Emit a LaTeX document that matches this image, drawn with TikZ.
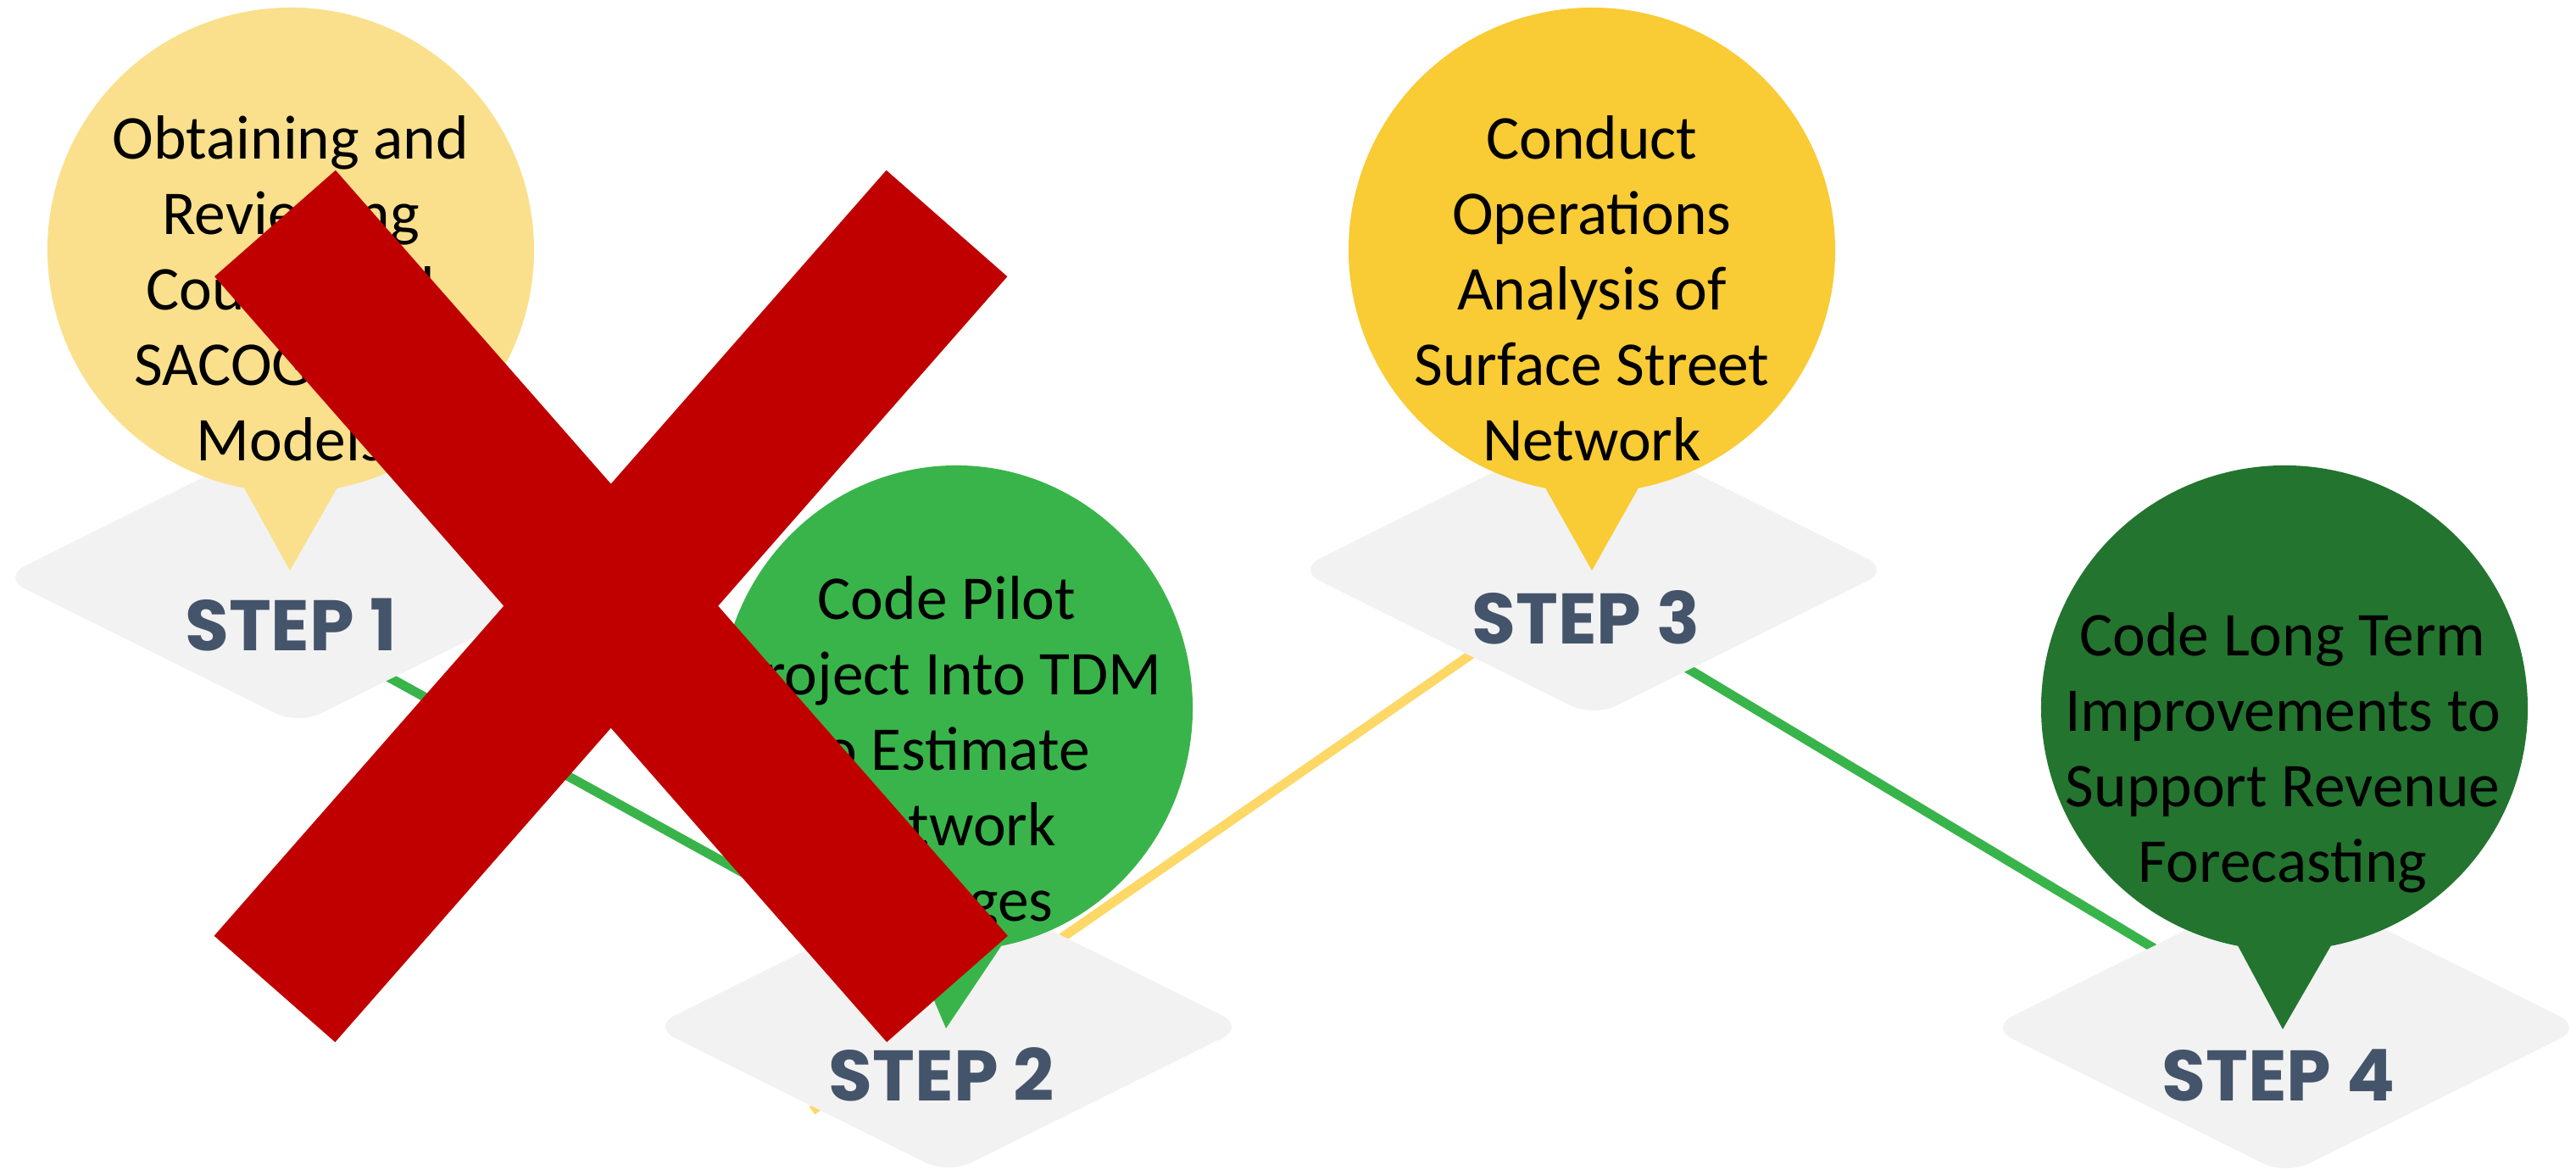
\documentclass[tikz,border=0pt]{standalone}
\usepackage{fontspec}
\setmainfont{Carlito}
\newfontfamily\stepfont{Poppins}
\usetikzlibrary{shapes.geometric,calc}
\definecolor{stepgrey}{HTML}{F2F2F2}
\definecolor{stepslate}{HTML}{44546A}
\definecolor{palegold}{HTML}{FAE08C}
\definecolor{bubblegold}{HTML}{F9CB34}
\definecolor{leafgreen}{HTML}{39B44A}
\definecolor{darkleaf}{HTML}{23742F}
\definecolor{linegold}{HTML}{FDD867}
\definecolor{crossred}{HTML}{C00000}
% callout: centre, x radius, y radius, tip, colour
\newcommand\callout[5]{%
  \fill[#5] (#1) ++(-79:#2 and #3)
    arc[start angle=-79,end angle=259,x radius=#2,y radius=#3] -- (#4) -- cycle;}

\begin{document}
\begin{tikzpicture}[
    stepbox/.style={diamond,fill=stepgrey,minimum width=7cm,minimum height=3.48cm,
      inner sep=0pt,rounded corners=0.3cm},
    steplabel/.style={font=\stepfont\bfseries\fontsize{24}{24}\selectfont,
      text=stepslate,inner sep=0pt},
    bubbletext/.style={align=center,inner sep=0pt,
      font=\fontsize{20.9}{25.3}\selectfont},
    link/.style={line width=0.11cm},
    cross/.style={line width=1.9cm,crossred}]
  \useasboundingbox (0,0) rectangle (30.39,13.80);

  % path between the steps
  \coordinate (g1a) at (3.52,6.40);
  \coordinate (g1b) at (11.19,2.17);
  \coordinate (y2a) at (9.58,0.70);
  \coordinate (y2b) at (18.80,7.08);
  \coordinate (g3a) at (18.80,6.58);
  \coordinate (g3b) at (26.97,1.68);
  \draw[link,leafgreen] (g1a) -- (g1b);
  \draw[link,linegold] (y2a) -- (y2b);
  \draw[link,leafgreen] (g3a) -- (g3b);

  % steps
  \draw
    (3.52,6.99) node[stepbox](D1) {}
    (11.19,1.69) node[stepbox](D2) {}
    (18.80,7.08) node[stepbox](D3) {}
    (26.97,1.68) node[stepbox](D4) {};
  \node[steplabel] (S1) at ($(D1)+(-0.09,-0.56)$) {STEP 1};
  \node[steplabel] (S2) at ($(D2)+(-0.08,-0.56)$) {STEP 2};
  \node[steplabel] (S3) at ($(D3)+(-0.09,-0.56)$) {STEP 3};
  \node[steplabel] (S4) at ($(D4)+(-0.09,-0.56)$) {STEP 4};

  % callouts
  \coordinate (B1) at (3.43,10.85);
  \coordinate (B2) at (11.28,5.45);
  \coordinate (B3) at (18.78,10.85);
  \coordinate (B4) at (26.95,5.45);
  \coordinate (P1) at (3.42,7.07);
  \coordinate (P2) at (11.16,1.67);
  \coordinate (P3) at (18.78,7.07);
  \coordinate (P4) at (26.93,1.66);
  \callout{B1}{2.87}{2.86}{P1}{palegold}
  \callout{B2}{2.79}{2.86}{P2}{leafgreen}
  \callout{B3}{2.87}{2.86}{P3}{bubblegold}
  \callout{B4}{2.87}{2.86}{P4}{darkleaf}
  \node[bubbletext] (T1) at (3.43,10.40)
    {Obtaining and\\Reviewing\\County and\\SACOG TDM\\Models};
  \node[bubbletext] (T2) at (11.17,4.91)
    {Code Pilot\\Project Into TDM\\to Estimate\\Network\\Changes};
  \node[bubbletext] (T3) at (18.78,10.40)
    {Conduct\\Operations\\Analysis of\\Surface Street\\Network};
  \node[bubbletext] (T4) at (26.93,4.92)
    {Code Long Term\\Improvements to\\Support Revenue\\Forecasting};

  % step 1 struck out
  \coordinate (X1a) at (3.245,11.165);
  \coordinate (X1b) at (11.175,2.135);
  \coordinate (X2a) at (11.17,11.165);
  \coordinate (X2b) at (3.24,2.135);
  \draw[cross] (X1a) -- (X1b);
  \draw[cross] (X2a) -- (X2b);
\end{tikzpicture}
\end{document}
